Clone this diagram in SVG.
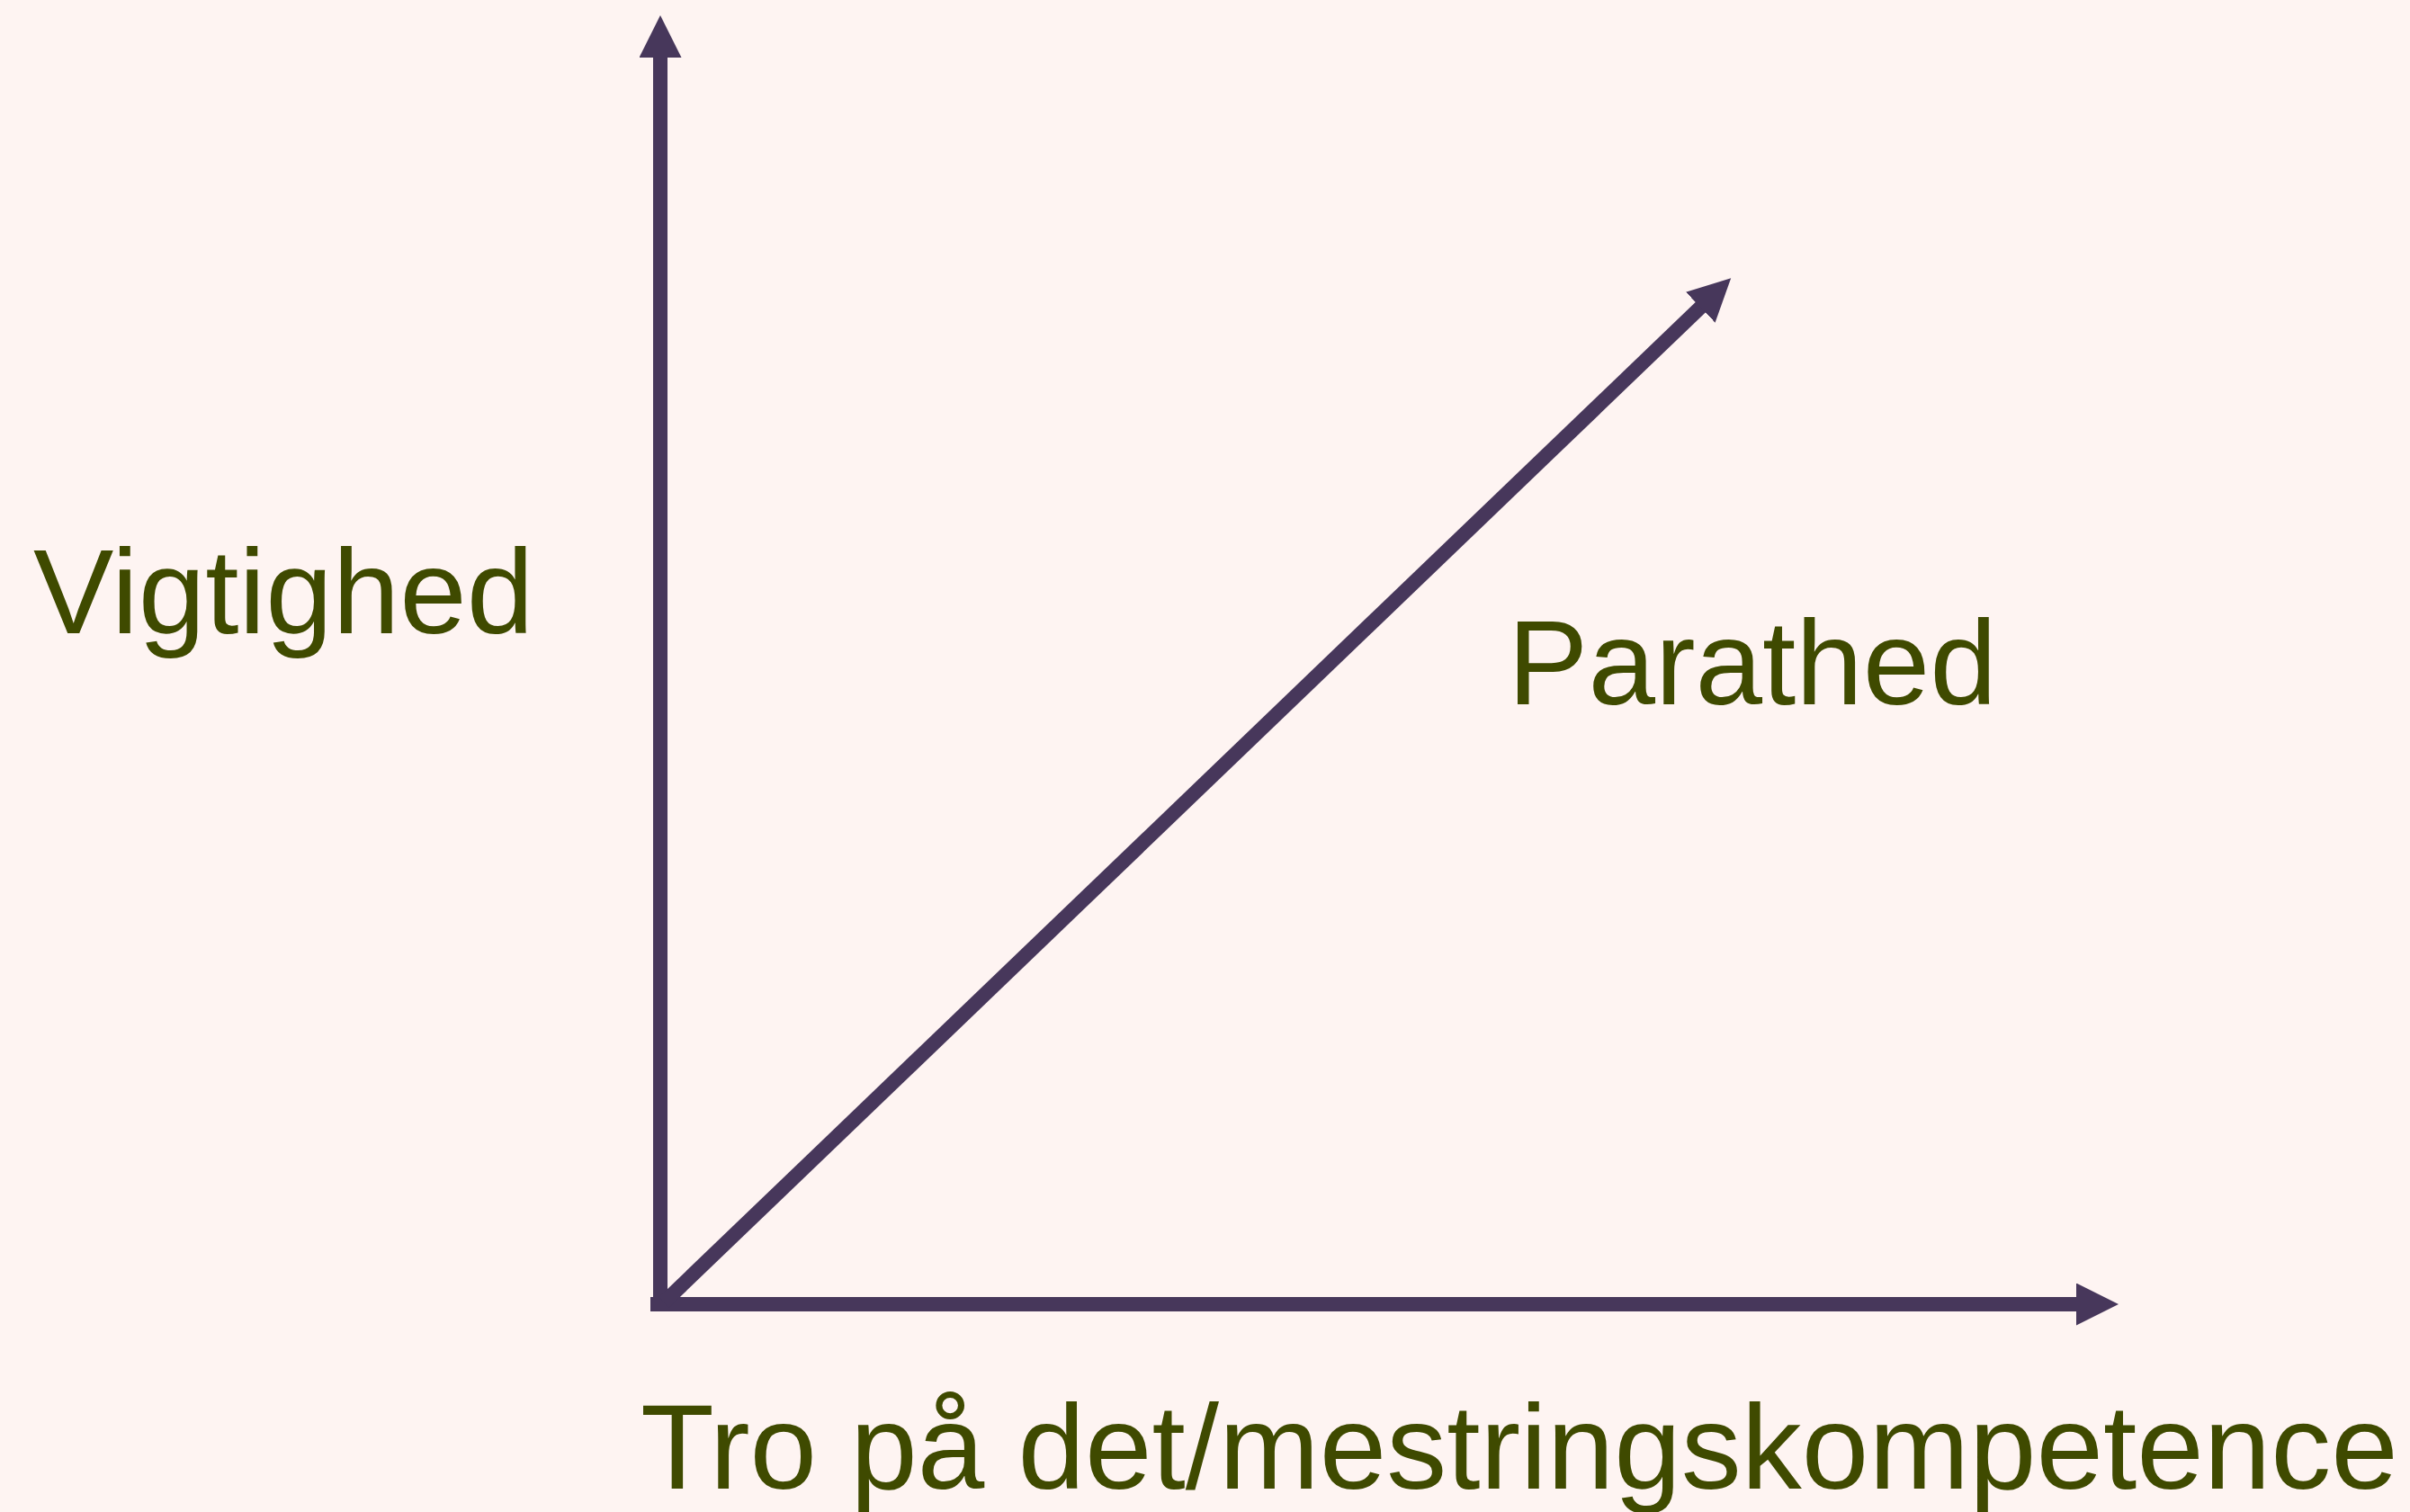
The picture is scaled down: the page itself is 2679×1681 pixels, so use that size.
<svg xmlns="http://www.w3.org/2000/svg" width="2679" height="1681" viewBox="0 0 2679 1681">
  <style>
    .axis { stroke: #47375B; stroke-width: 16; fill: none; stroke-linecap: butt; }
    .label { font-family: "Liberation Sans", Arial, sans-serif; font-size: 134px; fill: #3F4A00; }
  </style>
  <defs>
    <marker id="arrow" viewBox="0 0 47 47" refX="1" refY="23.5" markerWidth="47" markerHeight="47" markerUnits="userSpaceOnUse" orient="auto">
      <path d="M0,0 L47,23.5 L0,47 Z" fill="#47375B"/>
    </marker>
  </defs>
  <rect x="0" y="0" width="2679" height="1681" fill="#FEF4F2"/>
  <g id="connectors">
    <line class="axis" x1="734" y1="1458" x2="734" y2="63" marker-end="url(#arrow)"/>
    <line class="axis" x1="723" y1="1450" x2="2309" y2="1450" marker-end="url(#arrow)"/>
    <line class="axis" x1="738" y1="1448" x2="1891" y2="341" marker-end="url(#arrow)"/>
  </g>
  <g id="vigtighed">
    <text class="label" x="37" y="704">Vigtighed</text>
  </g>
  <g id="parathed">
    <text class="label" x="1676" y="783">Parathed</text>
  </g>
  <g id="tro">
    <text class="label" x="712" y="1655">Tro på det/mestringskompetence</text>
  </g>
</svg>
